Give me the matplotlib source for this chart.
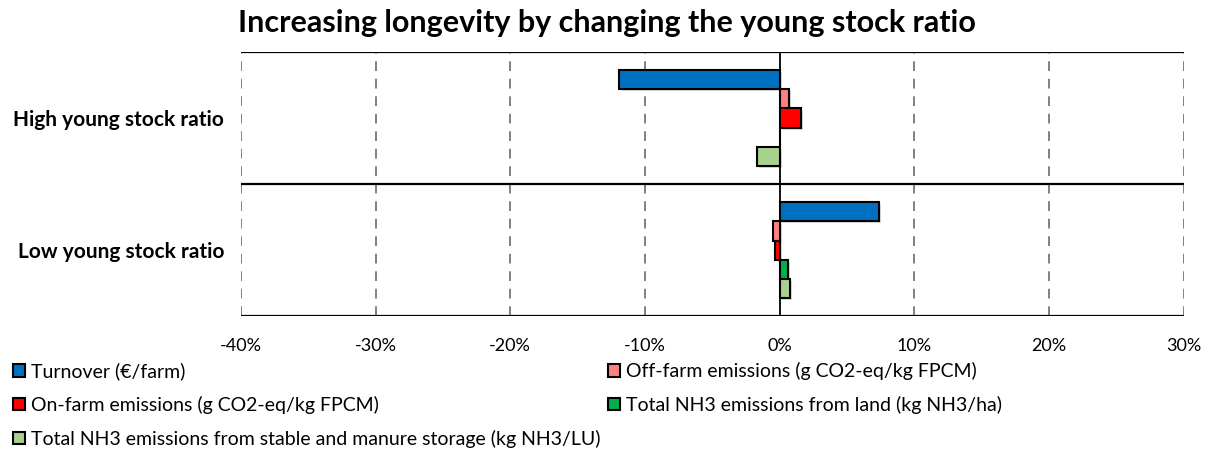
import matplotlib
matplotlib.use("Agg")
import matplotlib.pyplot as plt
from matplotlib.patches import Patch
import matplotlib.patheffects as pe
import numpy as np

plt.rcParams['font.family'] = ['Lato', 'DejaVu Sans']

categories = ["High young stock ratio", "Low young stock ratio"]
series_names = [
    "Turnover (€/farm)",
    "Off-farm emissions (g CO2-eq/kg FPCM)",
    "On-farm emissions (g CO2-eq/kg FPCM)",
    "Total NH3 emissions from land (kg NH3/ha)",
    "Total NH3 emissions from stable and manure storage (kg NH3/LU)",
]
series_colors = ["#0070C0", "#FF8080", "#FF0000", "#00B050", "#A9D18E"]
# percentage change per series, one value per category (High, Low)
turnover = [-11.9, 7.4]
off_farm = [0.7, -0.5]
on_farm = [1.6, -0.35]
nh3_land = [0.0, 0.6]
nh3_stable = [-1.7, 0.8]
series_values = [turnover, off_farm, on_farm, nh3_land, nh3_stable]
x_ticks = [-40, -30, -20, -10, 0, 10, 20, 30]
title = "Increasing longevity by changing the young stock ratio"

fig = plt.figure(figsize=(12.09, 4.53), dpi=100)
ax = fig.add_axes([0.1993, 0.302, 0.7797, 0.583])

ypos = np.arange(len(categories))
h = 0.146
shadow = [pe.SimplePatchShadow(offset=(1.5, -1.5), shadow_rgbFace='0.6', alpha=0.35), pe.Normal()]
for i, (vals, col) in enumerate(zip(series_values, series_colors)):
    bars = ax.barh(ypos + (i - 2) * h, vals, height=h, color=col,
                   edgecolor='black', linewidth=1.5, zorder=3)
    for b in bars:
        if b.get_width() != 0:
            b.set_path_effects(shadow)

ax.set_xlim(-40, 30)
ax.set_ylim(1.5, -0.5)
ax.set_xticks(x_ticks)
ax.set_xticklabels([f"{t}%" for t in x_ticks], fontsize=13)
ax.tick_params(axis='x', length=0, pad=16)
ax.set_yticks(ypos)
ax.set_yticklabels(categories, fontsize=15, fontweight='bold')
ax.tick_params(axis='y', length=0, pad=12)

for t in x_ticks:
    if t == 0:
        ax.axvline(t, color='black', lw=1.3, zorder=4)
    else:
        ax.axvline(t, color='#808080', lw=1.4, ls=(0, (5, 4)), zorder=1)
for yb in [-0.5, 0.5, 1.5]:
    ax.axhline(yb, color='black', lw=1.6, zorder=2)
for s in ax.spines.values():
    s.set_visible(False)

fig.text(0.502, 0.95, title, ha='center', va='center', fontsize=22, fontweight='bold')

handles = [Patch(facecolor=c, edgecolor='black', linewidth=1.5) for c in series_colors]
leg_kw = dict(frameon=False, fontsize=14, handlelength=0.6, handleheight=0.6,
              handletextpad=0.3, labelspacing=0.8, borderaxespad=0, borderpad=0)
leg1 = fig.legend([handles[0], handles[2], handles[4]],
                  [series_names[0], series_names[2], series_names[4]],
                  loc='upper left', bbox_to_anchor=(0.011, 0.2), **leg_kw)
leg2 = fig.legend([handles[1], handles[3]], [series_names[1], series_names[3]],
                  loc='upper left', bbox_to_anchor=(0.503, 0.2), **leg_kw)

fig.savefig("out.png", dpi=100)
